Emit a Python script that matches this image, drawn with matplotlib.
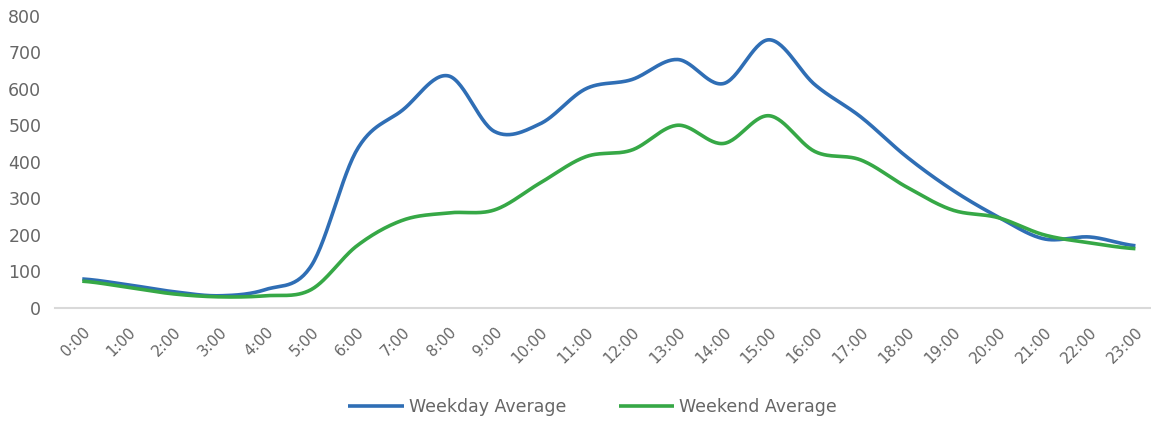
import numpy as np
import matplotlib
matplotlib.use("Agg")
import matplotlib.pyplot as plt

hours = [f"{h}:00" for h in range(24)]
weekday = [79, 63, 44, 33, 50, 115, 433, 542, 635, 483, 504, 600,
           625, 680, 614, 734, 611, 523, 414, 323, 249, 189, 194, 170]
weekend = [73, 56, 38, 30, 33, 50, 170, 240, 260, 268, 342, 414,
           432, 500, 450, 526, 428, 405, 331, 268, 247, 200, 178, 162]


def smooth(y, steps=30):
    # Catmull-Rom style curve through the points, like Excel's smoothed lines
    y = np.asarray(y, dtype=float)
    x = np.arange(len(y), dtype=float)
    p = np.concatenate([[y[0]], y, [y[-1]]])
    xs, ys = [], []
    for i in range(len(y) - 1):
        p0, p1, p2, p3 = p[i], p[i + 1], p[i + 2], p[i + 3]
        t = np.linspace(0, 1, steps, endpoint=False)
        yy = 0.5 * ((2 * p1) + (-p0 + p2) * t
                    + (2 * p0 - 5 * p1 + 4 * p2 - p3) * t ** 2
                    + (-p0 + 3 * p1 - 3 * p2 + p3) * t ** 3)
        xs.append(x[i] + t)
        ys.append(yy)
    xs.append([x[-1]])
    ys.append([y[-1]])
    return np.concatenate(xs), np.concatenate(ys)


fig = plt.figure(figsize=(11.51, 4.24), dpi=100)
ax = fig.add_axes([0.048, 0.274, 0.952, 0.689])

xb, yb = smooth(weekday)
xg, yg = smooth(weekend)
ax.plot(xb, yb, color="#2F6EB5", lw=2.6, label="Weekday Average",
        solid_capstyle="butt")
ax.plot(xg, yg, color="#36A846", lw=2.6, label="Weekend Average",
        solid_capstyle="butt")

ax.set_ylim(0, 800)
ax.set_xlim(-0.59, 23.34)
ax.set_yticks(range(0, 801, 100))
ax.set_xticks(range(24))
ax.set_xticklabels(hours, rotation=45, ha="right", rotation_mode="anchor")

for s in ["top", "right", "left"]:
    ax.spines[s].set_visible(False)
ax.spines["bottom"].set_color("#D9D9D9")
ax.spines["bottom"].set_linewidth(1.5)
ax.tick_params(axis="both", length=0, colors="#666666")
ax.tick_params(axis="x", pad=12, labelsize=11)
ax.tick_params(axis="y", pad=10, labelsize=12.5)

leg = fig.legend(loc="center", bbox_to_anchor=(0.515, 0.04), ncol=2,
                 frameon=False, fontsize=12.5, handlelength=3.2,
                 handletextpad=0.3, columnspacing=3.0)
for t in leg.get_texts():
    t.set_color("#666666")

fig.savefig("out.png", dpi=100)
